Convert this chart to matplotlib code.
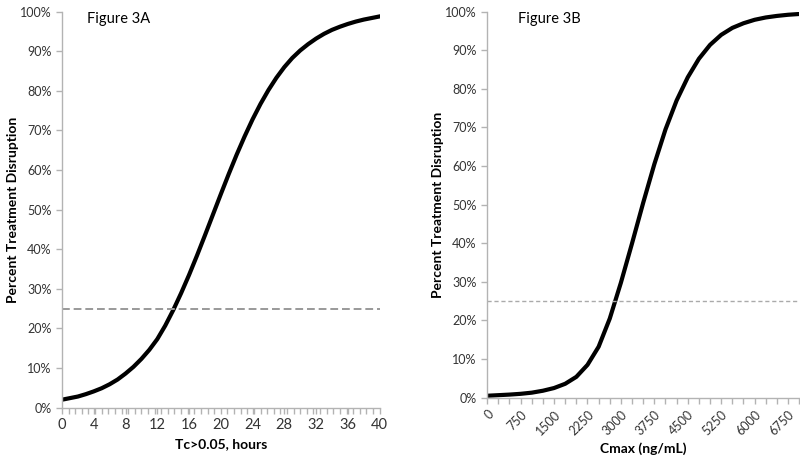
import matplotlib
matplotlib.use("Agg")
import matplotlib.pyplot as plt
from matplotlib.ticker import MultipleLocator, PercentFormatter

# Figure 3A: time above threshold (hours) vs percent disruption
tc_hours = list(range(0, 41))
tc_pct = [2.0, 2.4, 2.8, 3.4, 4.1, 4.9, 5.9, 7.1, 8.6, 10.3,
          12.3, 14.6, 17.3, 20.7, 24.6, 28.9, 33.5, 38.4, 43.5, 48.7,
          53.9, 59.0, 63.9, 68.5, 72.8, 76.7, 80.2, 83.3, 86.0, 88.3,
          90.2, 91.8, 93.2, 94.4, 95.4, 96.2, 96.9, 97.5, 98.0, 98.4, 98.8]

# Figure 3B: Cmax (ng/mL) vs percent disruption
cmax = list(range(0, 7001, 250))
cmax_pct = [0.5, 0.65, 0.8, 1.0, 1.3, 1.8, 2.5, 3.6, 5.4, 8.5,
            13.2, 20.5, 29.8, 40.0, 50.5, 60.5, 69.5, 77.0, 83.0, 87.8,
            91.4, 94.0, 95.8, 97.0, 97.9, 98.5, 98.9, 99.2, 99.4]

threshold = 25

plt.rcParams["font.family"] = ["Lato", "DejaVu Sans"]
axis_grey = "#b3b3b3"
text_col = "#333333"

fig = plt.figure(figsize=(8, 4.58), dpi=100)
ax1 = fig.add_axes([0.0775, 0.110, 0.397, 0.8645])
ax2 = fig.add_axes([0.609, 0.1317, 0.390, 0.8428])


def style(ax):
    for side in ("top", "right"):
        ax.spines[side].set_visible(False)
    for side in ("left", "bottom"):
        ax.spines[side].set_color(axis_grey)
        ax.spines[side].set_linewidth(1.0)
    ax.tick_params(which="both", direction="out", color=axis_grey, labelcolor=text_col,
                   labelsize=9, length=4, width=1)
    ax.set_ylim(0, 100)
    ax.yaxis.set_major_locator(MultipleLocator(10))
    ax.yaxis.set_major_formatter(PercentFormatter(decimals=0))
    ax.set_ylabel("Percent Treatment Disruption", fontsize=10, fontweight="bold",
                  color="black", labelpad=1)


style(ax1)
ax1.plot(tc_hours, tc_pct, color="black", lw=3, solid_joinstyle="round")
ax1.axhline(threshold, color="#999999", lw=1.4, ls=(0, (4, 2)))
ax1.set_xlim(0, 40)
ax1.xaxis.set_major_locator(MultipleLocator(4))
ax1.xaxis.set_minor_locator(MultipleLocator(40 / 48))
ax1.set_xlabel("Tc>0.05, hours", fontsize=10, fontweight="bold", color="black")
ax1.tick_params(axis="x", labelsize=10.5)
ax1.text(0.08, 0.998, "Figure 3A", transform=ax1.transAxes, fontsize=10.5, va="top")

style(ax2)
ax2.plot(cmax, cmax_pct, color="black", lw=3, solid_joinstyle="round")
ax2.axhline(threshold, color="#aaaaaa", lw=1.0, ls=(0, (3, 2)))
ax2.set_xlim(0, 7000)
ax2.xaxis.set_major_locator(MultipleLocator(750))
ax2.xaxis.set_minor_locator(MultipleLocator(250))
ax2.set_xlabel("Cmax (ng/mL)", fontsize=10, fontweight="bold", color="black")
for lab in ax2.get_xticklabels():
    lab.set_rotation(45)
    lab.set_ha("right")
    lab.set_rotation_mode("anchor")
ax2.text(0.10, 0.998, "Figure 3B", transform=ax2.transAxes, fontsize=10.5, va="top")

fig.savefig("out.png", dpi=100)
